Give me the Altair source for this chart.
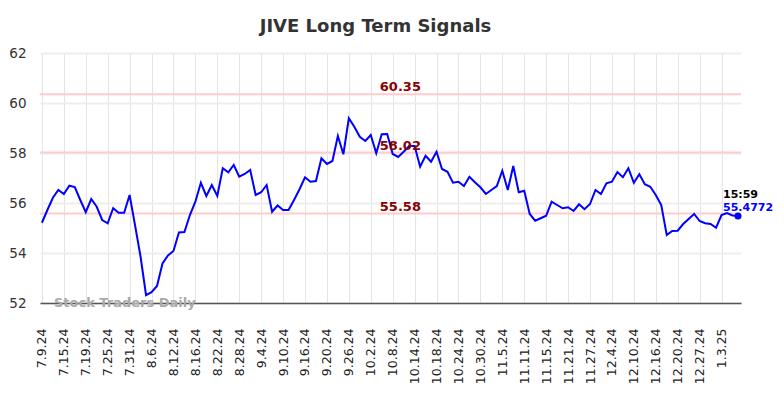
import altair as alt
import pandas as pd

# closing values, one per trading day (7.9.24 .. 1.8.25)
values = [
    55.21, 55.72, 56.21, 56.52, 56.36, 56.69, 56.64, 56.12, 55.63, 56.16,
    55.85, 55.32, 55.19, 55.79, 55.61, 55.61, 56.32, 55.10, 53.85, 52.31,
    52.43, 52.68, 53.58, 53.90, 54.08, 54.82, 54.84, 55.52, 56.05, 56.81,
    56.28, 56.72, 56.28, 57.39, 57.23, 57.52, 57.05, 57.16, 57.32, 56.32,
    56.43, 56.72, 55.65, 55.90, 55.72, 55.72, 56.12, 56.55, 57.03, 56.85,
    56.88, 57.79, 57.56, 57.68, 58.68, 57.95, 59.39, 59.05, 58.65, 58.48,
    58.72, 57.99, 58.75, 58.76, 57.96, 57.84, 58.05, 58.28, 58.28, 57.45,
    57.89, 57.65, 58.05, 57.36, 57.25, 56.81, 56.85, 56.68, 57.05, 56.83,
    56.63, 56.36, 56.52, 56.68, 57.29, 56.52, 57.48, 56.43, 56.49, 55.56,
    55.29, 55.39, 55.49, 56.05, 55.92, 55.79, 55.83, 55.68, 55.95, 55.75,
    55.96, 56.52, 56.36, 56.79, 56.85, 57.24, 57.03, 57.39, 56.81, 57.15,
    56.75, 56.65, 56.32, 55.92, 54.72, 54.88, 54.89, 55.16, 55.36, 55.56,
    55.28, 55.19, 55.16, 55.01, 55.52, 55.60, 55.50, 55.4772,
]

tick_labels = [
    "7.9.24", "7.15.24", "7.19.24", "7.25.24", "7.31.24", "8.6.24", "8.12.24",
    "8.16.24", "8.22.24", "8.28.24", "9.4.24", "9.10.24", "9.16.24", "9.20.24",
    "9.26.24", "10.2.24", "10.8.24", "10.14.24", "10.18.24", "10.24.24",
    "10.30.24", "11.5.24", "11.11.24", "11.15.24", "11.21.24", "11.27.24",
    "12.4.24", "12.10.24", "12.16.24", "12.20.24", "12.27.24", "1.3.25",
]
tick_step = 4

levels = [60.35, 58.02, 55.58]
level_labels = ["60.35", "58.02", "55.58"]
level_label_pos = 65.4

last_time = "15:59"
last_value = 55.4772
watermark = "Stock Traders Daily"
watermark_pos = 2.2
y_ticks = [52, 54, 56, 58, 60, 62]

n = len(values)
df = pd.DataFrame({"i": list(range(n)), "v": values})
lv = pd.DataFrame({"v": levels, "label": level_labels, "i": [level_label_pos] * len(levels)})
last = pd.DataFrame({"i": [n - 1], "v": [last_value], "t": [last_time], "s": [f"{last_value}"]})
wm = pd.DataFrame({"i": [watermark_pos], "v": [y_ticks[0]], "t": [watermark]})

label_array = "[" + ",".join(f"'{s}'" for s in tick_labels) + "]"

xscale = alt.Scale(domain=[-0.35, n - 0.45], nice=False, zero=False)
yscale = alt.Scale(domain=[52, 62], nice=False, zero=False)

xaxis = alt.Axis(
    values=[k * tick_step for k in range(len(tick_labels))],
    labelExpr=f"{label_array}[round(datum.value/{tick_step})]",
    labelAngle=-90, labelFontSize=12.5, labelColor="#222222", labelPadding=25,
    ticks=False, grid=True, gridColor="#e4e4e4", gridWidth=1,
    domain=True, domainColor="#555555", domainWidth=1.5, title=None,
)
yaxis = alt.Axis(
    values=y_ticks, labelFontSize=13.5, labelColor="#333333", labelPadding=14,
    ticks=False, grid=True, gridColor="#eeeeee", gridWidth=2, domain=False, title=None,
)

X = alt.X("i:Q", scale=xscale, axis=xaxis)
Y = alt.Y("v:Q", scale=yscale, axis=yaxis)

rules = alt.Chart(lv).mark_rule(color="#ffcccc", strokeWidth=2).encode(y=alt.Y("v:Q", scale=yscale, axis=yaxis))
line = alt.Chart(df).mark_line(color="#0000ff", strokeWidth=2).encode(x=X, y=Y)
lvl_text = alt.Chart(lv).mark_text(
    color="#8b0000", fontWeight="bold", fontSize=13, baseline="alphabetic", dy=-3
).encode(x=X, y=Y, text="label:N")
wm_text = alt.Chart(wm).mark_text(
    color="#aaaaaa", fontWeight="bold", fontSize=13, align="left", baseline="middle"
).encode(x=X, y=Y, text="t:N")
dot = alt.Chart(last).mark_circle(color="#0000ff", size=50, opacity=1).encode(x=X, y=Y)
t1 = alt.Chart(last).mark_text(
    color="#000000", fontWeight="bold", fontSize=11, align="left", baseline="alphabetic", dx=-15, dy=-18
).encode(x=X, y=Y, text="t:N")
t2 = alt.Chart(last).mark_text(
    color="#0000ff", fontWeight="bold", fontSize=11, align="left", baseline="alphabetic", dx=-15, dy=-5
).encode(x=X, y=Y, text="s:N")

chart = (
    alt.layer(rules, line, lvl_text, wm_text, dot, t1, t2)
    .properties(
        width=701, height=250,
        title=alt.TitleParams("JIVE Long Term Signals", fontSize=18, fontWeight="bold",
                              color="#333333", offset=10, dx=-15, anchor="middle"),
        padding={"left": 0, "top": 10, "right": 0, "bottom": 0},
    )
    .configure(font="DejaVu Sans")
    .configure_view(stroke=None)
)

chart.save("out.html", embed_options={"renderer": "svg", "actions": False})
